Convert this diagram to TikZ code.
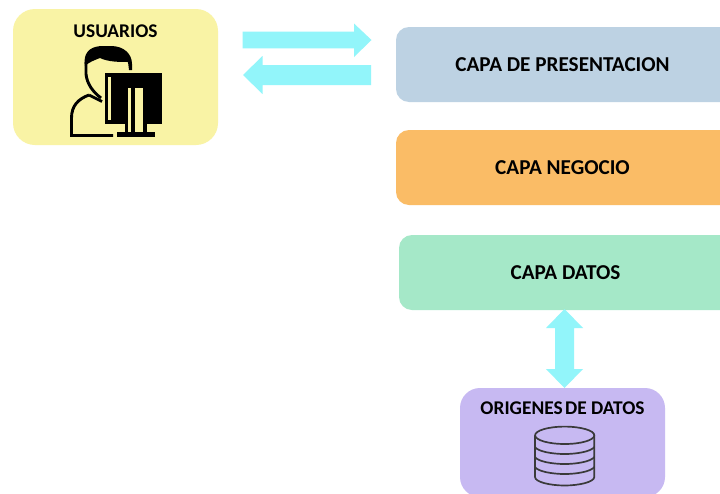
\documentclass[tikz,border=0pt]{standalone}
\usepackage{fontspec}
\setmainfont{Carlito}
\definecolor{cYellow}{HTML}{F9F3A5}
\definecolor{cBlue}{HTML}{BDD2E3}
\definecolor{cOrange}{HTML}{FABC66}
\definecolor{cGreen}{HTML}{A5E8C8}
\definecolor{cPurple}{HTML}{C7B9F2}
\definecolor{cArrow}{HTML}{92F5FA}
\definecolor{cIcon}{HTML}{3A3A3A}
\tikzset{
  label/.style={font=\bfseries\fontsize{21.2}{24}\selectfont,text=black,inner sep=0pt},
  smalllabel/.style={font=\bfseries\fontsize{19.4}{22}\selectfont,text=black,inner sep=0pt},
  blockarrow/.style={fill=cArrow,draw=none},
}
\begin{document}
\begin{tikzpicture}[x=1pt,y=-1pt]
\useasboundingbox (0,0) rectangle (720,493);
\clip (0,0) rectangle (720,493);
\fill[white] (0,0) rectangle (720,493);
% panels
\fill[cYellow,rounded corners=22pt] (13,9) rectangle (218,145);
\fill[cBlue,rounded corners=13pt] (396,27) rectangle (740,102);
\fill[cOrange,rounded corners=13pt] (396,130) rectangle (740,205);
\fill[cGreen,rounded corners=13pt] (399,235) rectangle (740,310);
\fill[cPurple,rounded corners=20pt] (460,388) rectangle (665,497);
% labels
\node[smalllabel] (usuarios) at (115.5,31.5) {USUARIOS};
\node[label] (pres) at (562.5,64.5) {CAPA DE PRESENTACION};
\node[label] (neg) at (562.5,167.5) {CAPA NEGOCIO};
\node[label] (dat) at (565.5,272.5) {CAPA DATOS};
\node[smalllabel] (orig) at (562.5,408.5) {ORIGENES\hspace{0.12em}DE DATOS};
% block arrows
\fill[blockarrow] (242.7,31.7) -- (354,31.7) -- (354,23.5) -- (371.5,40) -- (354,57) -- (354,48.3) -- (242.7,48.3) -- cycle;
\fill[blockarrow] (371,65) -- (262.5,65) -- (262.5,56) -- (243,75) -- (262.5,94) -- (262.5,85) -- (371,85) -- cycle;
\fill[blockarrow] (564.5,309) -- (583,328) -- (574,328) -- (574,369) -- (583,369) -- (564.5,388) -- (546,369) -- (555,369) -- (555,328) -- (546,328) -- cycle;
% user icon
\begin{scope}[line width=2.9pt,draw=black]
\fill[black] (84.5,62) .. controls (84.5,50) and (93,46) .. (103,46) -- (111,46) .. controls (124,46) and (132,54) .. (132,64) -- (132,70) -- (129,70) -- (128,62) .. controls (120,62) and (108,62) .. (100,58) .. controls (95,60) and (89,62) .. (85,66) -- cycle;
\draw (86,62) -- (86,74) .. controls (87,84) and (93,92) .. (101,98);
\draw (89,95) .. controls (78,99) and (71.5,106) .. (71.5,118) -- (71.5,135.5) -- (113,135.5);
\draw (89,95) -- (102,101.5);
\fill[black] (105,73.3) rectangle (161.7,124);
\fill[cYellow] (108.3,76.7) rectangle (111,120);
\fill[black] (125,124) rectangle (147,132);
\fill[black] (117,131.7) rectangle (154.5,136.5);
\fill[cYellow] (128.3,88) rectangle (130.7,132);
\fill[cYellow] (134.7,88) rectangle (143.3,132);
\end{scope}
% database icon
\begin{scope}[line width=1.7pt,draw=cIcon]
\draw (564.7,435.3) ellipse (29.6 and 8.7);
\draw (535,435.3) -- (535,477) .. controls (535,482) and (550,485.5) .. (564.7,485.5) .. controls (579,485.5) and (594.3,482) .. (594.3,477) -- (594.3,435.3);
\draw (535,447) .. controls (538,451.5) and (552,454) .. (564.7,454) .. controls (577,454) and (591,451.5) .. (594.3,447);
\draw (535,457) .. controls (538,461.5) and (552,464) .. (564.7,464) .. controls (577,464) and (591,461.5) .. (594.3,457);
\draw (535,467) .. controls (538,471.5) and (552,474) .. (564.7,474) .. controls (577,474) and (591,471.5) .. (594.3,467);
\end{scope}
\end{tikzpicture}
\end{document}
